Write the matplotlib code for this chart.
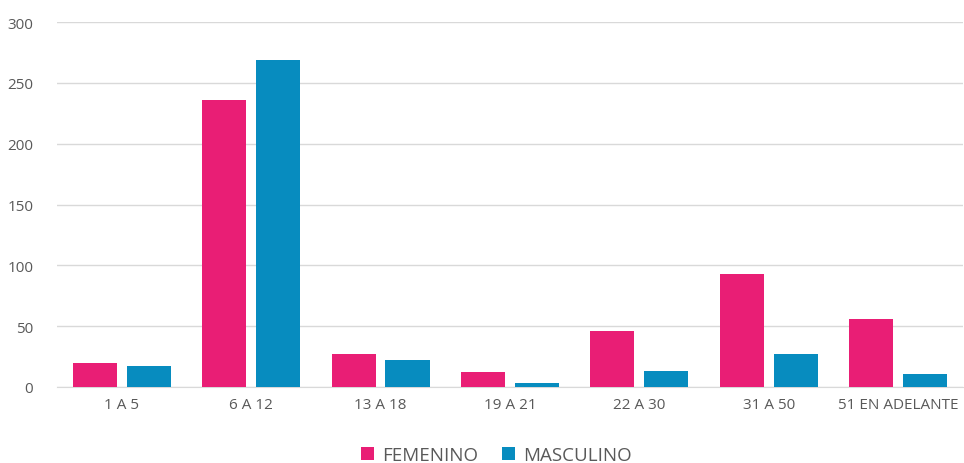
import numpy as np
import matplotlib.pyplot as plt

# data
categories = ['1 A 5', '6 A 12', '13 A 18', '19 A 21', '22 A 30', '31 A 50', '51 EN ADELANTE']
femenino = [20, 236, 27, 12, 46, 93, 56]
masculino = [17, 269, 22, 3, 13, 27, 11]

pink = '#E91E75'
blue = '#078CBF'
text_color = '#595959'

plt.rcParams['font.family'] = ['Open Sans', 'DejaVu Sans']

fig = plt.figure(figsize=(9.64, 4.64), dpi=100)
ax = fig.add_axes([0.059, 0.164, 0.94, 0.786])

x = np.arange(len(categories))
w = 0.34
gap = 0.077
ax.bar(x - (w + gap) / 2, femenino, width=w, color=pink, label='FEMENINO', zorder=3)
ax.bar(x + (w + gap) / 2, masculino, width=w, color=blue, label='MASCULINO', zorder=3)

ax.set_xlim(-0.5, len(categories) - 0.5)
ax.set_ylim(0, 300)
ax.set_yticks(range(0, 301, 50))
ax.set_xticks(x)
ax.set_xticklabels(categories)

ax.grid(axis='y', color='#D9D9D9', linewidth=1, zorder=0)
for s in ['top', 'right', 'left']:
    ax.spines[s].set_visible(False)
ax.spines['bottom'].set_color('#D9D9D9')
ax.tick_params(axis='both', length=0, colors=text_color, labelsize=11)
ax.tick_params(axis='x', pad=7)
ax.tick_params(axis='y', pad=17)

leg = ax.legend(loc='center', bbox_to_anchor=(0.485, -0.186), ncol=2, frameon=False,
                fontsize=13.5, handlelength=0.7, handleheight=0.7, columnspacing=1.3,
                handletextpad=0.4)
for t in leg.get_texts():
    t.set_color(text_color)

plt.savefig('out.png', dpi=100)
